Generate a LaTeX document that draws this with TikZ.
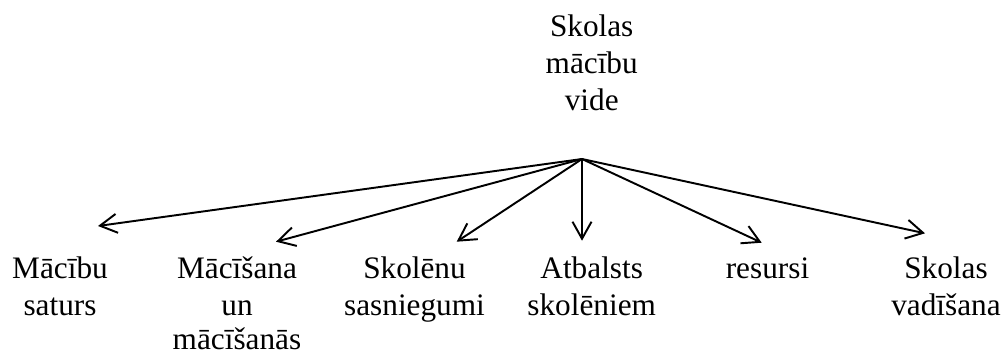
\documentclass[tikz,border=0pt]{standalone}
\usepackage{fontspec}
\setmainfont{Liberation Serif}
\usetikzlibrary{arrows.meta}
\begin{document}
\begin{tikzpicture}[x=0.02cm,y=-0.02cm,
  lbl/.style={align=center,anchor=base,inner sep=0pt,font=\fontsize{17.8}{21.05}\selectfont},
  arr/.style={-{Straight Barb[length=0.34cm,width=0.38cm]},line width=1.1pt}]
\useasboundingbox (0,0) rectangle (1003,352);
% anchor=base is the baseline of the last line
\node[lbl] (top) at (591.7,110.5) {Skolas\\mācību\\vide};
\node[lbl] (n1) at (60,315) {Mācību\\saturs};
\node[lbl] (n2) at (237,349) {Mācīšana\\un\\[-0.06cm]mācīšanās};
\node[lbl] (n3) at (414.5,315) {Skolēnu\\sasniegumi};
\node[lbl] (n4) at (591.7,315) {Atbalsts\\skolēniem};
\node[lbl] (n5) at (767.5,278) {resursi};
\node[lbl] (n6) at (946,315) {Skolas\\vadīšana};
\coordinate (hub) at (582,159);
\coordinate (t1) at (98,226);
\coordinate (t2) at (276,241.7);
\coordinate (t3) at (456.7,241.7);
\coordinate (t4) at (582,240.7);
\coordinate (t5) at (761.7,242.7);
\coordinate (t6) at (925,233.3);
\foreach \t in {t1,t2,t3,t4,t5,t6} \draw[arr] (hub) -- (\t);
\end{tikzpicture}
\end{document}
